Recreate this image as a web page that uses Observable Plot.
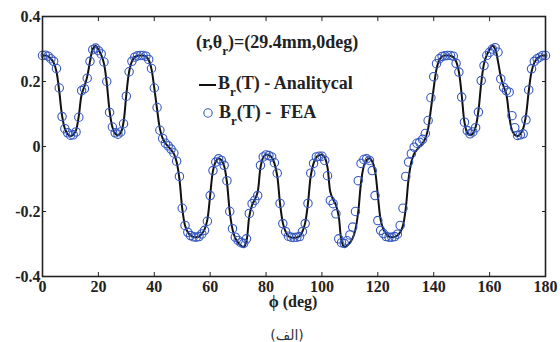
<!DOCTYPE html>
<html>
<head>
<meta charset="utf-8">
<script src="https://cdn.jsdelivr.net/npm/d3@7"></script>
<script src="https://cdn.jsdelivr.net/npm/@observablehq/plot@0.6"></script>
<style>
  html, body { margin: 0; padding: 0; background: #fff; }
  #chart { width: 560px; }
  #caption { width: 560px; box-sizing: border-box; padding-left: 14px; text-align: center;
    font-family: "DejaVu Sans", sans-serif; font-size: 14px; color: #333; line-height: 18px; margin-top: 8px; }
</style>
</head>
<body>
<div id="chart"></div>
<div id="caption"><span dir="rtl">(الف)</span></div>
<script>
// phi angles (deg)
const angles = [0,1,2,3,4,5,6,7,8,9,10,11,12,13,14,15,16,17,18,19,20,21,22,23,24,25,26,27,28,29,30,31,32,33,34,35,36,37,38,39,40,41,42,43,44,45,46,47,48,49,50,51,52,53,54,55,56,57,58,59,60,61,62,63,64,65,66,67,68,69,70,71,72,73,74,75,76,77,78,79,80,81,82,83,84,85,86,87,88,89,90,91,92,93,94,95,96,97,98,99,100,101,102,103,104,105,106,107,108,109,110,111,112,113,114,115,116,117,118,119,120,121,122,123,124,125,126,127,128,129,130,131,132,133,134,135,136,137,138,139,140,141,142,143,144,145,146,147,148,149,150,151,152,153,154,155,156,157,158,159,160,161,162,163,164,165,166,167,168,169,170,171,172,173,174,175,176,177,178,179,180];

// Br (T) - FEA (circles)
const brFEA = [
 0.280,0.281,0.278,0.270,0.262,0.240,0.180,0.092,0.055,0.042,
 0.035,0.036,0.045,0.090,0.172,0.178,0.210,0.262,0.298,0.303,
 0.295,0.285,0.260,0.200,0.105,0.060,0.042,0.038,0.045,0.070,
 0.155,0.230,0.262,0.275,0.279,0.280,0.280,0.278,0.268,0.240,
 0.180,0.120,0.050,0.025,0.010,0.002,-0.008,-0.020,-0.045,-0.092,
 -0.190,-0.243,-0.264,-0.274,-0.278,-0.279,-0.277,-0.269,-0.258,-0.230,
 -0.151,-0.074,-0.048,-0.038,-0.043,-0.058,-0.105,-0.200,-0.253,-0.279,
 -0.289,-0.296,-0.298,-0.284,-0.206,-0.176,-0.165,-0.151,-0.058,-0.032,
 -0.026,-0.028,-0.032,-0.050,-0.082,-0.175,-0.237,-0.262,-0.276,-0.279,
 -0.280,-0.279,-0.277,-0.262,-0.237,-0.175,-0.082,-0.052,-0.032,-0.030,
 -0.030,-0.043,-0.090,-0.166,-0.176,-0.207,-0.284,-0.296,-0.298,-0.290,
 -0.272,-0.248,-0.200,-0.105,-0.052,-0.040,-0.038,-0.043,-0.074,-0.151,
 -0.228,-0.258,-0.268,-0.277,-0.279,-0.279,-0.277,-0.270,-0.243,-0.190,
 -0.092,-0.048,-0.022,-0.002,0.010,0.013,0.022,0.040,0.080,0.150,
 0.215,0.255,0.270,0.277,0.279,0.280,0.280,0.278,0.256,0.229,
 0.152,0.075,0.049,0.039,0.045,0.058,0.106,0.203,0.249,0.280,
 0.290,0.300,0.304,0.290,0.208,0.182,0.172,0.167,0.095,0.058,
 0.034,0.036,0.039,0.082,0.174,0.239,0.262,0.270,0.275,0.280,
 0.280
];

// Br (T) - Analitycal (line)
const brAnalytical = [
 0.280,0.280,0.277,0.270,0.258,0.230,0.170,0.095,0.055,0.038,
 0.032,0.036,0.050,0.095,0.160,0.185,0.215,0.262,0.300,0.310,
 0.298,0.282,0.255,0.195,0.110,0.060,0.040,0.035,0.042,0.075,
 0.160,0.230,0.262,0.275,0.279,0.280,0.280,0.277,0.266,0.238,
 0.180,0.115,0.055,0.025,0.010,0.000,-0.010,-0.022,-0.048,-0.100,
 -0.190,-0.243,-0.264,-0.274,-0.278,-0.279,-0.277,-0.269,-0.255,-0.225,
 -0.150,-0.075,-0.046,-0.036,-0.042,-0.060,-0.110,-0.200,-0.255,-0.282,
 -0.296,-0.305,-0.310,-0.290,-0.215,-0.180,-0.163,-0.140,-0.065,-0.033,
 -0.025,-0.027,-0.033,-0.052,-0.090,-0.175,-0.235,-0.262,-0.276,-0.280,
 -0.281,-0.280,-0.276,-0.262,-0.235,-0.175,-0.090,-0.052,-0.033,-0.027,
 -0.025,-0.033,-0.065,-0.140,-0.163,-0.180,-0.215,-0.290,-0.310,-0.305,
 -0.296,-0.282,-0.255,-0.200,-0.110,-0.060,-0.042,-0.036,-0.046,-0.075,
 -0.150,-0.225,-0.255,-0.269,-0.277,-0.279,-0.278,-0.274,-0.264,-0.243,
 -0.190,-0.100,-0.048,-0.022,-0.010,0.000,0.010,0.025,0.055,0.115,
 0.180,0.238,0.266,0.277,0.280,0.280,0.279,0.275,0.262,0.230,
 0.160,0.075,0.042,0.035,0.040,0.060,0.110,0.195,0.255,0.282,
 0.298,0.310,0.300,0.262,0.215,0.185,0.160,0.095,0.050,0.036,
 0.032,0.038,0.055,0.095,0.170,0.230,0.258,0.270,0.277,0.280,
 0.280
];

const xTicks = [0,20,40,60,80,100,120,140,160,180];
const yTicks = [0.4,0.2,0,-0.2,-0.4];
const yTickLabels = ["0.4","0.2","0","-0.2","-0.4"];
const xAxisLabel = "ϕ (deg)";

const lineData = angles.map((a, i) => ({phi: a, br: brAnalytical[i]}));
const feaData = angles.map((a, i) => ({phi: a, br: brFEA[i]}));

const fontFam = "Liberation Serif, Times New Roman, serif";
const W = 560, H = 318;

const plot = Plot.plot({
  width: W,
  height: H,
  marginLeft: 42,
  marginRight: 15,
  marginTop: 16,
  marginBottom: H - 276,
  style: {fontFamily: fontFam, fontSize: "16px", fontWeight: "bold", color: "#222", background: "#fff", overflow: "visible"},
  x: {domain: [0, 180]},
  y: {domain: [-0.4, 0.4]},
  marks: [
    Plot.line(lineData, {x: "phi", y: "br", stroke: "#111", strokeWidth: 2, curve: "catmull-rom"}),
    Plot.dot(feaData, {x: "phi", y: "br", r: 4.2, stroke: "#3558c0", strokeWidth: 1.1, fill: "none"}),
    Plot.axisX(xTicks, {anchor: "bottom", tickSize: -4, tickPadding: 8, label: null, stroke: "#222", fill: "#222", fontFamily: fontFam}),
    Plot.axisX(xTicks, {anchor: "top", tickSize: -4, tickFormat: () => "", label: null, stroke: "#222"}),
    Plot.axisY(yTicks, {anchor: "left", tickSize: -4, tickPadding: 6, label: null, tickFormat: (d) => yTickLabels[yTicks.indexOf(d)], stroke: "#222", fill: "#222", fontFamily: fontFam}),
    Plot.axisY(yTicks, {anchor: "right", tickSize: -4, tickFormat: () => "", label: null, stroke: "#222"}),
    Plot.frame({stroke: "#222", strokeWidth: 1.6}),
    Plot.text([xAxisLabel], {frameAnchor: "bottom", dx: -1, dy: 30, fontSize: 16, fontWeight: "bold", fill: "#222", fontFamily: fontFam})
  ]
});

document.getElementById("chart").appendChild(plot);

// Legend / annotation
const svg = d3.select(plot);
const g = svg.append("g")
  .attr("font-family", fontFam)
  .attr("font-weight", "bold")
  .attr("font-size", 18)
  .attr("text-anchor", "start")
  .attr("fill", "#222");

function subText(x, y, parts) {
  const t = g.append("text").attr("x", x).attr("y", y).attr("text-anchor", "start").style("white-space", "pre");
  parts.forEach(([s, sub], i) => {
    const prevSub = i > 0 && parts[i - 1][1];
    const span = t.append("tspan").text(s);
    if (sub) span.attr("dy", 7).attr("font-size", 13);
    else if (prevSub) span.attr("dy", -7);
  });
  return t;
}

subText(196, 48, [["(r,θ"], ["r", true], [")=(29.4mm,0deg)"]]);
g.append("line").attr("x1", 199).attr("x2", 216).attr("y1", 85).attr("y2", 85).attr("stroke", "#111").attr("stroke-width", 2);
subText(218, 89, [["B"], ["r", true], ["(T) - Analitycal"]]);
g.append("circle").attr("cx", 208).attr("cy", 113).attr("r", 4.2).attr("fill", "none").attr("stroke", "#3558c0").attr("stroke-width", 1.1);
subText(219, 118, [["B"], ["r", true], ["(T) -  FEA"]]);
</script>
</body>
</html>
